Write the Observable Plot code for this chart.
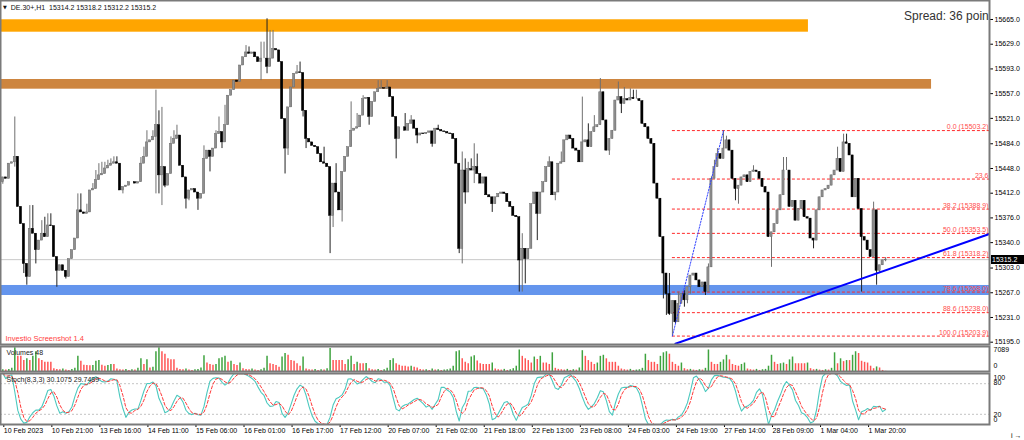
<!DOCTYPE html>
<html><head><meta charset="utf-8">
<script src="https://cdn.jsdelivr.net/npm/d3@7"></script>
<script src="https://cdn.jsdelivr.net/npm/@observablehq/plot@0.6"></script>
<style>
html,body{margin:0;padding:0;background:#fff;}
#wrap{position:relative;width:1024px;height:440px;overflow:hidden;background:#fff;font-family:"Liberation Sans",Arial,sans-serif;}
#wrap svg{position:absolute;left:0;}
.lbl{position:absolute;white-space:nowrap;line-height:1;}
</style></head><body><div id="wrap"></div>
<script>
// ---------------- data ----------------
const symbolName = "DE.30+,H1";
const firstOpen = 15428;
const closes = [
15435,15433,15455,15457,15465,15392,15367,15309,15290,15360,
15353,15329,15343,15353,15348,15365,15364,15319,15299,15307,
15299,15290,15316,15329,15346,15387,15384,15382,15384,15416,
15418,15431,15438,15440,15448,15452,15455,15457,15455,15416,
15421,15423,15428,15428,15426,15428,15455,15465,15486,15489,
15494,15511,15438,15450,15423,15440,15484,15491,15496,15452,
15435,15404,15416,15418,15413,15404,15411,15462,15474,15465,
15477,15498,15501,15486,15511,15554,15562,15576,15574,15598,
15610,15617,15615,15617,15610,15603,15608,15608,15596,15608,
15622,15620,15603,15520,15477,15537,15566,15586,15588,15587,
15532,15491,15486,15481,15479,15469,15457,15455,15450,15379,
15426,15413,15387,15443,15465,15479,15503,15506,15508,15525,
15549,15551,15523,15545,15559,15564,15565,15564,15566,15552,
15523,15491,15508,15508,15503,15513,15518,15506,15496,15499,
15498,15500,15502,15484,15506,15504,15502,15501,15499,15498,
15491,15455,15331,15445,15413,15447,15445,15450,15440,15426,
15435,15409,15406,15396,15406,15411,15413,15411,15399,15392,
15379,15377,15314,15331,15316,15331,15396,15413,15382,15413,
15428,15450,15457,15409,15413,15455,15457,15489,15496,15491,
15477,15474,15457,15486,15489,15479,15501,15508,15511,15559,
15518,15474,15491,15503,15547,15552,15542,15549,15547,15551,
15549,15549,15546,15513,15508,15491,15484,15426,15404,15348,
15295,15265,15236,15255,15224,15251,15265,15256,15275,15292,
15295,15285,15275,15282,15268,15304,15433,15450,15469,15462,
15477,15489,15474,15433,15418,15423,15435,15438,15428,15443,
15445,15443,15433,15421,15413,15348,15355,15367,15387,15409,
15445,15445,15392,15401,15372,15389,15401,15377,15375,15346,
15343,15387,15406,15416,15418,15423,15438,15445,15462,15443,
15486,15484,15467,15406,15433,15389,15348,15343,15329,15319,
15387,15299,15307,15314.2,15315.2];
const wickHighs = [[4,15523],[9,15394],[10,15394],[13,15372],[14,15377],[15,15382],[16,15382],[25,15411],[26,15411],[28,15396],[30,15426],[31,15445],[32,15455],[33,15457],[34,15457],[35,15460],[36,15462],[37,15465],[38,15465],[46,15464],[47,15479],[48,15503],[50,15503],[51,15562],[52,15532],[53,15537],[56,15494],[57,15503],[58,15511],[67,15481],[71,15503],[72,15523],[74,15540],[81,15627],[82,15625],[86,15632],[87,15632],[88,15666],[89,15649],[90,15649],[98,15598],[99,15603],[101,15508],[107,15479],[111,15455],[116,15545],[118,15528],[120,15554],[125,15576],[126,15576],[128,15576],[134,15528],[136,15525],[145,15511],[153,15472],[154,15462],[155,15457],[156,15462],[157,15484],[158,15469],[173,15353],[182,15465],[186,15472],[193,15552],[195,15513],[197,15525],[199,15579],[205,15574],[207,15566],[209,15564],[210,15562],[211,15562],[222,15295],[225,15268],[227,15270],[235,15309],[236,15436],[237,15460],[238,15477],[240,15503.2],[241,15495],[250,15452],[260,15464],[261,15464],[278,15479],[280,15498],[281,15498],[290,15399],[294,15318.2]];
const wickLows = [[0,15425],[4,15450],[7,15295],[8,15278],[11,15309],[18,15275],[21,15287],[40,15411],[51,15411],[52,15411],[53,15394],[54,15420],[61,15389],[62,15401],[65,15387],[69,15443],[73,15477],[86,15576],[88,15586],[94,15440],[95,15467],[100,15523],[101,15477],[109,15324],[110,15362],[113,15370],[122,15511],[131,15462],[138,15484],[143,15479],[152,15324],[153,15309],[154,15396],[157,15426],[163,15384],[172,15268],[173,15268],[174,15280],[178,15343],[184,15401],[202,15467],[206,15528],[220,15258],[221,15234],[222,15234],[223,15203.9],[224,15222],[227,15246],[228,15251],[229,15265],[234,15263],[244,15401],[245,15396],[256,15304],[270,15331],[286,15268],[291,15278],[292,15295],[294,15312.2]];
const volumes = [
500,400,600,900,6700,4300,4300,3100,3600,3100,
4300,5600,3600,3100,2600,2600,2600,800,600,500,
700,400,300,600,900,4300,2900,1800,1700,1600,
1700,2900,3100,1800,1500,1700,2000,2000,700,500,
400,600,300,500,400,900,3600,2000,3300,1000,
1200,5600,6700,5600,4900,3600,3300,3300,900,600,
500,700,400,300,500,600,1000,4500,2400,2000,
1800,2000,3600,3900,4300,2600,2900,2000,1700,2400,
800,600,500,700,400,300,500,900,4300,2200,
2000,1700,1200,4100,5100,4600,3100,2900,2200,1500,
4100,700,500,400,600,300,500,400,800,6500,
3100,3100,3100,3100,2000,3300,4300,2000,2600,2200,
2200,2300,800,500,400,600,300,500,900,3100,
3600,2200,1800,1500,1500,1300,1500,1200,1000,600,
400,500,300,700,400,500,300,400,500,700,
1500,5600,5900,3600,2600,2200,4100,4500,3000,2200,
2000,2000,2000,2400,700,500,400,600,300,500,
800,1500,6100,4300,3600,3100,2400,4100,3400,4300,
2400,2400,2000,5300,900,600,500,400,600,300,
500,400,1000,5900,4300,3100,2600,2000,2400,4300,
4600,3600,2600,2600,2600,1500,700,500,400,600,
300,400,500,900,4900,3100,2600,2600,2000,4300,
5300,5600,4900,2600,2000,1500,2400,800,500,600,
400,300,500,400,900,6100,2600,2000,2000,2600,
3300,4600,3300,2000,1700,1500,2000,2400,700,500,
400,600,300,500,600,1500,4600,2600,2000,2200,
2400,2000,3300,4100,2200,2200,2200,2200,2400,800,
500,600,400,300,500,400,900,5300,2200,3600,
2800,3100,3100,4600,5600,5100,2900,2600,2400,1500,
800,1300,1000,300,48];
const xTickLabels = ["10 Feb 2023","10 Feb 21:00","13 Feb 16:00","14 Feb 11:00","15 Feb 06:00","16 Feb 01:00","16 Feb 17:00","17 Feb 12:00","20 Feb 07:00","21 Feb 02:00","21 Feb 18:00","22 Feb 13:00","23 Feb 08:00","24 Feb 03:00","24 Feb 19:00","27 Feb 14:00","28 Feb 09:00","1 Mar 04:00","1 Mar 20:00"];
const barsPerTick = 16;
const priceTicks = [15665,15629,15593,15557,15521,15484,15448,15412,15376,15340,15303,15267,15231,15195];
const fibLevels = ["0.0","23.6","38.2","50.0","61.8","78.6","88.6","100.0"];
const fibPrices = [15503.2,15432.6,15388.9,15353.5,15318.2,15268.0,15238.0,15203.9];
const fibShowPrice = [true,false,true,true,true,true,true,true];
const fibStartBar = 223;
const fibAnchorBars = [223,240];
const fibAnchorPrices = [15203.9,15503.2];
const trendBars = [224,328.6];
const trendPrices = [15192.7,15352.6];
const zoneTops = [15664.6,15577.6,15277.6];
const zoneBottoms = [15646.5,15563.5,15263.0];
const zoneEndBars = [268.3,309.3,330];
const zoneColors = ["#ffa500","#cd853f","#6495ed"];
const lastBar = {open:15314.2, high:15318.2, low:15312.2, close:15315.2};
const volMax = 7089;
const stochParams = [8,3,3];
const stochLastValues = [30.1075, 29.7489];
const spreadText = "Spread: 36 poin";

// ---------------- derived ----------------
const xDomain = [-0.766, 328.6];
const hiMap = new Map(wickHighs), loMap = new Map(wickLows);
const candles = closes.map((c,i)=>{
  const o = i===0 ? firstOpen : closes[i-1];
  const h = Math.max(o,c, hiMap.has(i)?hiMap.get(i):-Infinity);
  const l = Math.min(o,c, loMap.has(i)?loMap.get(i):Infinity);
  return {i,o,h,l,c,up:c>=o};
});
const vbars = volumes.map((v,i)=>({i,v,up: i===0 ? true : v>volumes[i-1]}));
const [K,S,D] = stochParams;
const hh = candles.map((d,i)=>d3.max(candles.slice(Math.max(0,i-K+1),i+1),e=>e.h));
const ll = candles.map((d,i)=>d3.min(candles.slice(Math.max(0,i-K+1),i+1),e=>e.l));
const kv = candles.map((d,i)=>{let n=0,m=0;for(let j=Math.max(0,i-S+1);j<=i;j++){n+=candles[j].c-ll[j];m+=hh[j]-ll[j];}return m?n/m*100:50;});
const dv = kv.map((v,i)=>d3.mean(kv.slice(Math.max(0,i-D+1),i+1)));
const stoch = kv.map((k,i)=>({i,k,d:dv[i]}));
const zones = zoneTops.map((t,j)=>({t,b:zoneBottoms[j],e:zoneEndBars[j],c:zoneColors[j]}));
const fibs = fibPrices.map((p,j)=>({p,label: fibLevels[j] + (fibShowPrice[j] ? " (" + p.toFixed(1) + ")" : "")}));
const font = "Liberation Sans, Arial, sans-serif";
const wrap = document.getElementById("wrap");
const frameColor = "#7a7a7a";

// ---------------- main price panel ----------------
const main = Plot.plot({
  width:1024, height:345, marginTop:0, marginBottom:1, marginLeft:0, marginRight:35,
  x:{domain:xDomain, axis:null},
  y:{domain:[15191.64,15692.67], axis:null},
  color:{type:"identity"},
  style:{fontFamily:font, background:"transparent", overflow:"visible", color:"#000"},
  marks:[
    Plot.rect(zones,{x1:xDomain[0], x2:"e", y1:"b", y2:"t", fill:"c", clip:true}),
    Plot.ruleY([lastBar.close],{stroke:"#c8c8c8", strokeWidth:1}),
    Plot.ruleY(fibs,{y:"p", x1:fibStartBar, x2:xDomain[1], stroke:"#ff2a2a", strokeWidth:1, strokeDasharray:"3,2"}),
    Plot.text(fibs,{y:"p", x:xDomain[1], text:"label", textAnchor:"end", lineAnchor:"bottom", dx:-1, dy:-1.5, fill:"#ff4d4d", fontSize:7}),
    Plot.ruleX(candles,{x:"i", y1:"l", y2:"h", stroke:d=>d.up?"#707070":"#222", strokeWidth:1, clip:true}),
    Plot.rect(candles,{x1:d=>d.i-0.36, x2:d=>d.i+0.36, y1:"o", y2:"c", fill:d=>d.up?"#8e8e8e":"#000", stroke:d=>d.up?"#6a6a6a":"#000", strokeWidth:0.5, clip:true}),
    Plot.line(fibAnchorBars.map((b,j)=>({b,p:fibAnchorPrices[j]})),{x:"b", y:"p", stroke:"#3344ff", strokeWidth:1, strokeDasharray:"1.5,1.5"}),
    Plot.line(trendBars.map((b,j)=>({b,p:trendPrices[j]})),{x:"b", y:"p", stroke:"#0000ff", strokeWidth:2, clip:true}),
    Plot.axisY(priceTicks,{anchor:"right", tickSize:3, tickPadding:2, tickFormat:d=>d.toFixed(1), fontSize:7, stroke:"#000"}),
    Plot.text(["Investio Screenshot 1.4"],{frameAnchor:"bottom-left", dx:5, dy:-6, lineAnchor:"middle", textAnchor:"start", fill:"#ff4040", fontSize:7.5}),
    Plot.frame({stroke:frameColor, strokeWidth:2})
  ]
});
main.style.top = "0px";
wrap.appendChild(main);

// ---------------- volume panel ----------------
const vol = Plot.plot({
  width:1024, height:25, marginTop:0, marginBottom:0, marginLeft:0, marginRight:35,
  x:{domain:xDomain, axis:null},
  y:{domain:[0,volMax], axis:null},
  color:{type:"identity"},
  style:{fontFamily:font, background:"transparent", overflow:"visible", color:"#000"},
  marks:[
    Plot.ruleX(vbars,{x:"i", y1:0, y2:"v", stroke:d=>d.up?"#3fa33f":"#ff5454", strokeWidth:1.5}),
    Plot.text([String(volMax)],{frameAnchor:"top-right", dx:4, dy:3.5, textAnchor:"start", lineAnchor:"middle", fontSize:7, fill:"#000"}),
    Plot.text(["0"],{frameAnchor:"bottom-right", dx:4, dy:-5.5, textAnchor:"start", lineAnchor:"middle", fontSize:7, fill:"#000"}),
    Plot.text(["Volumes " + volumes[volumes.length-1]],{frameAnchor:"top-left", dx:6, dy:6.5, textAnchor:"start", lineAnchor:"middle", fontSize:7, fill:"#222"}),
    Plot.frame({stroke:frameColor, strokeWidth:2})
  ]
});
vol.style.top = "346px";
wrap.appendChild(vol);

// ---------------- stochastic panel + time axis ----------------
const stLabels = [{v:100,dy:4.5},{v:80,dy:-0.5},{v:20,dy:0},{v:0,dy:-4.5}];
const st = Plot.plot({
  width:1024, height:67, marginTop:0, marginBottom:16, marginLeft:0, marginRight:35,
  x:{domain:xDomain, axis:null},
  y:{domain:[0,100], axis:null},
  style:{fontFamily:font, background:"transparent", overflow:"visible", color:"#000"},
  marks:[
    Plot.ruleY([20,80],{stroke:"#c4c4c4", strokeDasharray:"2,2"}),
    Plot.line(stoch,{x:"i", y:"k", stroke:"#4cc9bf", strokeWidth:1.1}),
    Plot.line(stoch,{x:"i", y:"d", stroke:"#ff3838", strokeWidth:1, strokeDasharray:"3,2"}),
    ...stLabels.map(s=>Plot.text([s.v],{y:d=>d, text:d=>String(d), frameAnchor:"right", dx:4, dy:s.dy, textAnchor:"start", lineAnchor:"middle", fontSize:7, fill:"#000"})),
    Plot.text(["Stoch(" + stochParams.join(",") + ") " + stochLastValues.map(v=>v.toFixed(4)).join(" ")],{frameAnchor:"top-left", dx:6, dy:6.5, textAnchor:"start", lineAnchor:"middle", fontSize:7, fill:"#222"}),
    Plot.axisX(xTickLabels.map((t,j)=>j*barsPerTick),{anchor:"bottom", tickSize:3, tickPadding:1, tickFormat:d=>xTickLabels[d/barsPerTick], textAnchor:"start", dx:1, fontSize:7, stroke:"#000"}),
    Plot.frame({stroke:frameColor, strokeWidth:2})
  ]
});
st.style.top = "373px";
wrap.appendChild(st);

// ---------------- header / overlays ----------------
const hdr = document.createElement("div");
hdr.className = "lbl";
hdr.style.cssText = "left:3px;top:4px;font-size:7px;color:#111;";
hdr.innerHTML = '<span style="font-family:DejaVu Sans;font-size:5px;position:relative;top:-1px">▼</span>&nbsp;&nbsp;' + symbolName + "&nbsp;&nbsp;" +
  [lastBar.open,lastBar.high,lastBar.low,lastBar.close].map(v=>v.toFixed(1)).join(" ");
wrap.appendChild(hdr);

const spr = document.createElement("div");
spr.className = "lbl";
spr.style.cssText = "left:904px;top:10px;font-size:12px;color:#333;";
spr.textContent = spreadText;
wrap.appendChild(spr);

const yb = main.scale("y").apply(lastBar.close);
const bid = document.createElement("div");
bid.className = "lbl";
bid.style.cssText = `left:991px;top:${yb-4.5}px;width:33px;height:9px;background:#000;color:#fff;font-size:7px;line-height:9px;text-align:left;padding-left:1px;box-sizing:border-box;`;
bid.textContent = lastBar.close.toFixed(1);
wrap.appendChild(bid);
</script></body></html>
